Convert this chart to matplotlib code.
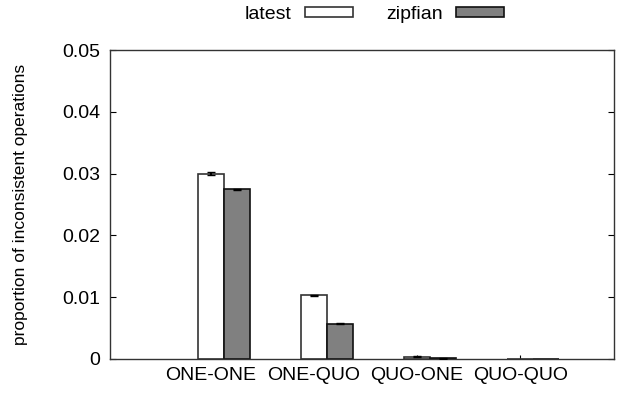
import numpy as np
from matplotlib import pyplot as plt

# consistency levels and measured inconsistency proportions
categories = ['ONE-ONE', 'ONE-QUO', 'QUO-ONE', 'QUO-QUO']
latest = [0.0300, 0.0103, 0.0004, 0.0]
zipfian = [0.0275, 0.0057, 0.0001, 0.0]
latest_err = [0.0002, 0.0001, 0.00005, 0.0]
zipfian_err = [0.0001, 0.00005, 0.00002, 0.0]


def draw():
    plt.rcParams['font.family'] = ['Liberation Sans', 'DejaVu Sans']
    fig = plt.figure(figsize=(6.29, 3.98), dpi=100)
    ax = fig.add_axes([0.175, 0.098, 0.801, 0.776])

    x = np.arange(len(categories))
    w = 0.25
    ax.bar(x, latest, w, color='white', edgecolor='#333333', linewidth=1.2,
           label='latest', zorder=2)
    ax.bar(x + w, zipfian, w, color='#808080', edgecolor='#111111', linewidth=1.2,
           label='zipfian', zorder=2)
    # error bars only where there is something to show
    for xs, ys, es in [(x, latest, latest_err), (x + w, zipfian, zipfian_err)]:
        keep = [i for i in range(len(ys)) if ys[i] > 0]
        ax.errorbar([xs[i] for i in keep], [ys[i] for i in keep],
                    yerr=[es[i] for i in keep], fmt='none', ecolor='black',
                    elinewidth=1.5, capsize=3, zorder=3)

    ax.set_xlim(-0.98, 3.91)
    ax.set_ylim(0, 0.05)
    ax.set_xticks(x)
    ax.set_xticklabels(categories, fontsize=14)
    ax.set_yticks([0, 0.01, 0.02, 0.03, 0.04, 0.05])
    ax.set_yticklabels(['0', '0.01', '0.02', '0.03', '0.04', '0.05'], fontsize=14)
    ax.tick_params(axis='y', direction='in', length=4, right=True, pad=7)
    ax.tick_params(axis='x', direction='in', length=3, pad=6)
    for s in ax.spines.values():
        s.set_color('#333333')
        s.set_linewidth(1.0)
    ax.set_ylabel('proportion of inconsistent operations', fontsize=12.5, labelpad=25)

    fig.legend(loc='upper center', bbox_to_anchor=(0.595, 1.03), ncol=2,
               frameon=False, markerfirst=False, fontsize=14,
               handlelength=2.45, handleheight=0.4, handletextpad=0.7,
               columnspacing=1.7)

    plt.savefig('out.png')


if __name__ == '__main__':
    draw()
